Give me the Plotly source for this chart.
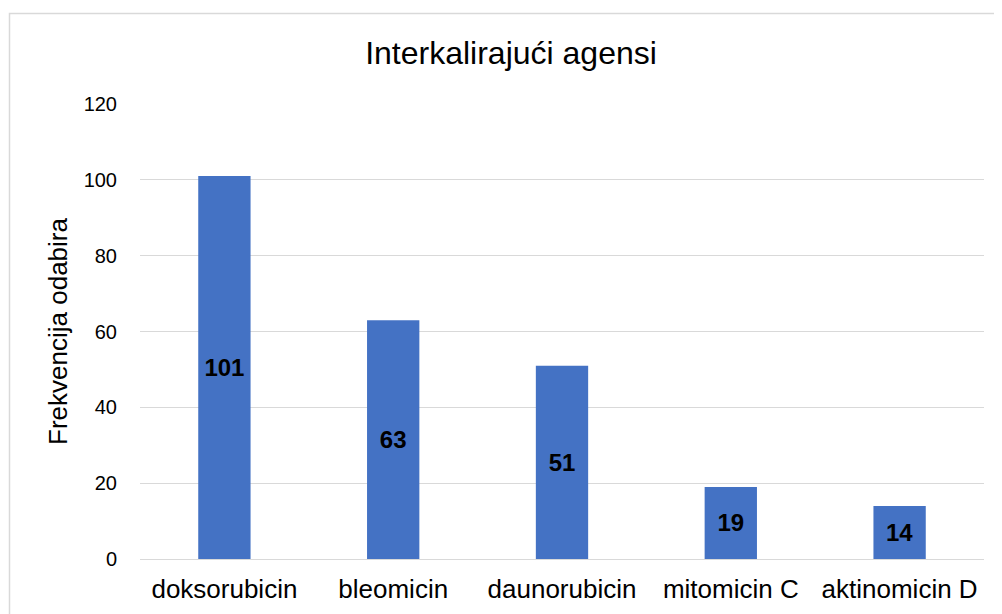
import plotly.graph_objects as go

categories = ["doksorubicin", "bleomicin", "daunorubicin", "mitomicin C", "aktinomicin D"]
values = [101, 63, 51, 19, 14]
y_ticks = [0, 20, 40, 60, 80, 100, 120]

fig = go.Figure(go.Bar(
    x=categories, y=values,
    marker=dict(color="#4472C4", line=dict(width=0)),
    text=[str(v) for v in values],
    textposition="inside", insidetextanchor="middle",
    textfont=dict(family="Liberation Sans, Arial", size=24, color="black", weight="bold"),
    textangle=0,
    cliponaxis=False,
))

# page has an 8px body margin, so the figure is drawn 8px in and down
fig.update_layout(
    width=994, height=606,
    margin=dict(l=132, r=18, t=96, b=55, autoexpand=False),
    paper_bgcolor="white", plot_bgcolor="white",
    bargap=0.69,
    showlegend=False,
    font=dict(family="Liberation Sans, Arial", color="#000000"),
    title=dict(text="Interkalirajući agensi", x=503 / 994, xref="container", xanchor="center",
               y=1 - 45 / 606, yref="container", yanchor="middle",
               font=dict(size=32, color="#000000")),
)
fig.update_xaxes(
    showgrid=False, showline=False, zeroline=False,
    tickfont=dict(size=26, color="#000000"),
    ticks="outside", ticklen=7, tickcolor="rgba(0,0,0,0)",
)
fig.update_yaxes(
    range=[0, 120], tickvals=y_ticks,
    showgrid=True, gridcolor="#D9D9D9", gridwidth=1.3,
    zeroline=True, zerolinecolor="#D9D9D9", zerolinewidth=1.3,
    showline=False,
    tickfont=dict(size=20, color="#000000"),
    ticks="outside", ticklen=18, tickcolor="rgba(0,0,0,0)",
    title=dict(text="Frekvencija odabira", font=dict(size=26, color="#000000"), standoff=8),
)
fig.add_shape(type="rect", xref="paper", yref="paper",
              x0=(9.5 - 140) / 844, x1=1.1, y0=-0.3, y1=(559 - 13.5) / 455,
              line=dict(color="#D9D9D9", width=1.5), fillcolor="rgba(0,0,0,0)", layer="below")

fig.write_html("out.html")
